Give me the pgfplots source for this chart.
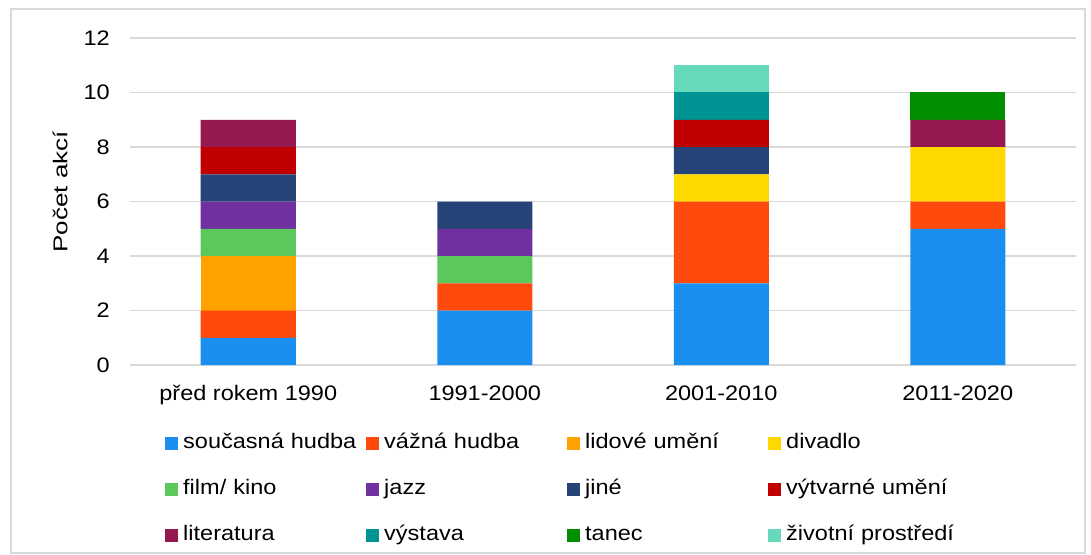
\documentclass[border=0pt]{standalone}
\usepackage{fontspec}
\setmainfont[FakeStretch=1.12]{Liberation Sans}
\newfontfamily\ylabfont[FakeStretch=1.3]{Liberation Sans}
\usepackage{pgfplots}
\pgfplotsset{compat=1.18}
\definecolor{cSoucasna}{HTML}{1A8FF0}
\definecolor{cVazna}{HTML}{FF4A0E}
\definecolor{cLidove}{HTML}{FFA200}
\definecolor{cDivadlo}{HTML}{FFD800}
\definecolor{cFilm}{HTML}{5CC85C}
\definecolor{cJazz}{HTML}{7030A0}
\definecolor{cJine}{HTML}{264478}
\definecolor{cVytvarne}{HTML}{C00000}
\definecolor{cLiteratura}{HTML}{961850}
\definecolor{cVystava}{HTML}{009393}
\definecolor{cTanec}{HTML}{008F00}
\definecolor{cZivotni}{HTML}{66D9BC}
\definecolor{gridgray}{HTML}{D9D9D9}
\begin{document}
\begin{tikzpicture}
\begin{axis}[
  at={(0,0)}, anchor=south west,
  width=946bp, height=327bp, scale only axis,
  ymin=0, ymax=12, ytick={0,2,...,12},
  xmin=-0.5, xmax=3.5, xtick={0,1,2,3},
  xticklabels={před rokem 1990,1991-2000,2001-2010,2011-2020},
  ybar stacked, bar width=95bp,
  axis line style={draw=none}, major tick length=0,
  ymajorgrids, grid style={color=gridgray, line width=1.3bp},
  tick label style={font=\fontsize{21bp}{25bp}\selectfont},
  /pgf/number format/assume math mode=true,
  xticklabel style={anchor=base, yshift=-35bp},
  yticklabel style={anchor=east, inner sep=0pt, xshift=-20bp},
  ylabel={Počet akcí},
  ylabel style={at={(axis description cs:-0.074,0.53)}, anchor=center, font=\ylabfont\fontsize{20bp}{24bp}\selectfont},
  legend columns=4,
  legend cell align=left,
  legend image code/.code={\fill (0bp,-6.5bp) rectangle (13bp,6.5bp);},
  legend style={at={(axis description cs:0.037,-0.213)}, anchor=north west,
    draw=none, fill=none, inner sep=0pt, row sep=28bp,
    font=\fontsize{21bp}{25bp}\selectfont,
    nodes={text width=183bp, text height=14bp, text depth=4bp, inner sep=0pt},
    /tikz/every odd column/.style={column sep=5bp},
    /tikz/every even column/.style={column sep=0bp}},
]
\addplot[fill=cSoucasna, draw=none] coordinates {(0,1) (1,2) (2,3) (3,5)};
\addplot[fill=cVazna, draw=none] coordinates {(0,1) (1,1) (2,3) (3,1)};
\addplot[fill=cLidove, draw=none] coordinates {(0,2) (1,0) (2,0) (3,0)};
\addplot[fill=cDivadlo, draw=none] coordinates {(0,0) (1,0) (2,1) (3,2)};
\addplot[fill=cFilm, draw=none] coordinates {(0,1) (1,1) (2,0) (3,0)};
\addplot[fill=cJazz, draw=none] coordinates {(0,1) (1,1) (2,0) (3,0)};
\addplot[fill=cJine, draw=none] coordinates {(0,1) (1,1) (2,1) (3,0)};
\addplot[fill=cVytvarne, draw=none] coordinates {(0,1) (1,0) (2,1) (3,0)};
\addplot[fill=cLiteratura, draw=none] coordinates {(0,1) (1,0) (2,0) (3,1)};
\addplot[fill=cVystava, draw=none] coordinates {(0,0) (1,0) (2,1) (3,0)};
\addplot[fill=cTanec, draw=none] coordinates {(0,0) (1,0) (2,0) (3,1)};
\addplot[fill=cZivotni, draw=none] coordinates {(0,0) (1,0) (2,1) (3,0)};
\legend{současná hudba, vážná hudba, lidové umění, divadlo, film/ kino, jazz, jiné, výtvarné umění, literatura, výstava, tanec, životní prostředí}
\end{axis}
\draw[color=gridgray, line width=1.5bp] (-119bp,-188bp) rectangle (955bp,356bp);
\pgfresetboundingbox
\useasboundingbox (-130bp,-190bp) rectangle (961bp,365bp);
\end{tikzpicture}
\end{document}
